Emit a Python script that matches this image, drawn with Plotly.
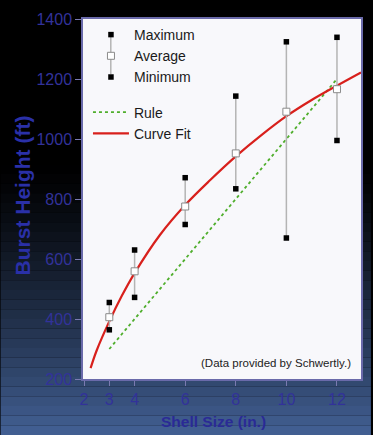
import plotly.graph_objects as go

# ---- data ----
shell_size = [3, 4, 6, 8, 10, 12]
height_max = [455, 630, 871, 1143, 1324, 1339]
height_avg = [406, 559, 775, 952, 1091, 1166]
height_min = [364, 472, 715, 834, 670, 995]

rule_x = [3, 12]
rule_y = [300, 1200]

fit_x = [2.26, 2.5, 3, 3.5, 4, 5, 6, 7, 8, 9, 10, 11, 12, 12.95]
fit_y = [236, 295, 392, 478, 553, 680, 780, 864, 942, 1012, 1076, 1130, 1178, 1222]

x_ticks = [2, 3, 4, 6, 8, 10, 12]
y_ticks = [200, 400, 600, 800, 1000, 1200, 1400]

NAVY = "#32329a"
FONT = "Liberation Sans, Arial, sans-serif"

fig = go.Figure()

fig.add_trace(go.Scatter(
    x=rule_x, y=rule_y, mode="lines", name="Rule",
    line=dict(color="#4fae2c", width=1.8, dash="dot"),
    legendgroup="b", legendrank=4))
fig.add_trace(go.Scatter(
    x=fit_x, y=fit_y, mode="lines", name="Curve Fit",
    line=dict(color="#d8201c", width=2.2, shape="spline"),
    legendgroup="b", legendrank=5))

err_plus = [mx - av for mx, av in zip(height_max, height_avg)]
err_minus = [av - mn for av, mn in zip(height_avg, height_min)]
fig.add_trace(go.Scatter(
    x=shell_size, y=height_avg, mode="markers", name="Average",
    marker=dict(symbol="square", size=7, color="white",
                line=dict(color="#8a8a8a", width=1)),
    error_y=dict(type="data", array=err_plus, arrayminus=err_minus,
                 color="#b4b4b4", thickness=1.5, width=0),
    legendgroup="a", legendrank=2))
fig.add_trace(go.Scatter(
    x=shell_size, y=height_max, mode="markers", name="Maximum",
    marker=dict(symbol="square", size=5.5, color="black"),
    legendgroup="a", legendrank=1))
fig.add_trace(go.Scatter(
    x=shell_size, y=height_min, mode="markers", name="Minimum",
    marker=dict(symbol="square", size=5.5, color="black"),
    legendgroup="a", legendrank=3))

# ---- background gradient (slide behind the chart) ----
shapes = []
n = 45
H = 435.0
def lerp(c1, c2, t):
    return "rgb(%d,%d,%d)" % tuple(round(a + (b - a) * t) for a, b in zip(c1, c2))
top = (0, 0, 0)
bottom = (66, 96, 148)
for i in range(n):
    y0 = i * H / n
    y1 = (i + 1) * H / n
    t = max(0.0, ((y0 + y1) / 2 / H - 0.38) / 0.62)
    col = lerp(top, bottom, t ** 1.25)
    shapes.append(dict(type="rect", xref="paper", yref="paper", layer="below",
                       x0=-83 / 280, x1=290 / 280,
                       y0=(379 - y1) / 360, y1=(379 - y0) / 360,
                       fillcolor=col, line=dict(width=0)))
# plot area (white)
shapes.append(dict(type="rect", xref="paper", yref="paper", layer="below",
                   x0=0, x1=1, y0=0, y1=1,
                   fillcolor="#f8f8fb", line=dict(width=0)))
# legend connector line between max / avg / min symbols
shapes.append(dict(type="line", xref="paper", yref="paper", layer="above",
                   x0=(111 - 83) / 280, x1=(111 - 83) / 280,
                   y0=(379 - 74) / 360, y1=(379 - 34) / 360,
                   line=dict(color="#b4b4b4", width=1.5)))

fig.update_layout(
    width=373, height=435,
    margin=dict(l=83, r=10, t=19, b=56),
    paper_bgcolor="black",
    plot_bgcolor="rgba(0,0,0,0)",
    font=dict(family=FONT, color=NAVY, size=15),
    shapes=shapes,
    showlegend=True,
    legend=dict(x=(88 - 83) / 280, y=1.0, xanchor="left", yanchor="top",
                bgcolor="rgba(0,0,0,0)", font=dict(size=14, color="#1a1a1a"),
                traceorder="grouped", tracegroupgap=14, itemwidth=36),
    annotations=[
        dict(text="(Data provided by Schwertly.)", xref="paper", yref="paper",
             x=0.972, y=0.044, xanchor="right", yanchor="middle",
             showarrow=False, font=dict(size=11.5, color="#222")),
        dict(text="<b>Burst Height (ft)</b>", xref="paper", yref="paper",
             x=-0.218, y=0.511, xanchor="center", yanchor="middle",
             textangle=-90, showarrow=False, font=dict(size=21, color="#2a30a8")),
        dict(text="<b>Shell Size (in.)</b>", xref="paper", yref="paper",
             x=0.471, y=-0.119, xanchor="center", yanchor="middle",
             showarrow=False, font=dict(size=15.5, color="#2a2a96")),
    ],
)
fig.update_xaxes(range=[1.96, 12.95], tickvals=x_ticks, ticks="outside",
                 ticklen=5, tickcolor="#7a7ab0", showgrid=False, zeroline=False,
                 showline=True, mirror=True, linecolor="#6a6aaa", linewidth=1.5,
                 tickfont=dict(size=16, color=NAVY))
fig.update_yaxes(range=[200, 1400], tickvals=y_ticks, ticks="outside",
                 ticklen=6, tickcolor="#7a7ab0", showgrid=False, zeroline=False,
                 showline=True, mirror=True, linecolor="#6a6aaa", linewidth=1.5,
                 tickfont=dict(size=16, color=NAVY))

fig.write_html("out.html", config={"displayModeBar": False}, post_script=[
    "document.body.style.margin='0';document.body.style.background='black';"])
